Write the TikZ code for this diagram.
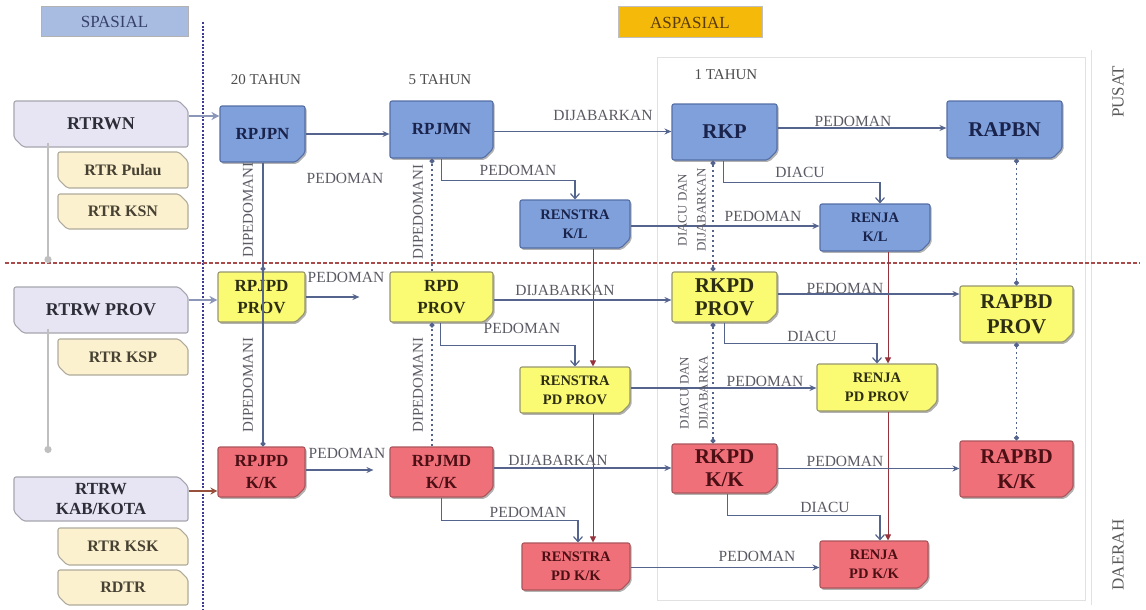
\documentclass[tikz,border=0pt]{standalone}
\usepackage{fontspec}
\setmainfont{Liberation Serif}
\usetikzlibrary{shapes.misc,arrows.meta,calc,shadows}
\definecolor{bluefill}{RGB}{127,160,219}
\definecolor{blueline}{RGB}{85,110,165}
\definecolor{bluetext}{RGB}{25,35,75}
\definecolor{yelfill}{RGB}{250,250,115}
\definecolor{yelline}{RGB}{150,150,110}
\definecolor{yeltext}{RGB}{45,45,20}
\definecolor{redfill}{RGB}{240,112,122}
\definecolor{redline}{RGB}{170,85,90}
\definecolor{redtext}{RGB}{75,15,20}
\definecolor{lavfill}{RGB}{231,229,243}
\definecolor{lavline}{RGB}{165,165,175}
\definecolor{lavtext}{RGB}{45,45,55}
\definecolor{crmfill}{RGB}{252,241,207}
\definecolor{crmline}{RGB}{175,170,155}
\definecolor{crmtext}{RGB}{70,65,50}
\definecolor{conn}{RGB}{85,100,140}
\definecolor{lbl}{RGB}{90,90,100}
\definecolor{sepblue}{RGB}{60,60,150}
\definecolor{sepred}{RGB}{170,75,75}
\definecolor{darkmaroon}{RGB}{150,50,60}
\definecolor{spasfill}{RGB}{168,188,226}
\definecolor{spastext}{RGB}{55,65,105}
\definecolor{aspfill}{RGB}{245,185,10}
\definecolor{asptext}{RGB}{90,60,10}
\definecolor{framegray}{RGB}{225,225,225}
\definecolor{leftarrow}{RGB}{140,150,185}
\definecolor{brownarrow}{RGB}{150,80,60}
\newcommand\myfs[1]{\fontsize{#1}{#1}\selectfont}
\newcommand\myfsl[2]{\fontsize{#1}{#2}\selectfont}
\begin{document}
\begin{tikzpicture}[x=1pt,y=-1pt,
  base/.style={chamfered rectangle, chamfered rectangle xsep=6pt, line width=1.1pt, align=center, inner sep=1pt, rounded corners=2pt},
  shad/.style={copy shadow={shadow xshift=1.5pt, shadow yshift=-1.8pt, fill=black!30, draw=none}},
  bluebox/.style={base, shad, chamfered rectangle corners=south east, fill=bluefill, draw=blueline, text=bluetext},
  yelbox/.style={base, shad, chamfered rectangle corners=south east, fill=yelfill, draw=yelline, text=yeltext},
  redbox/.style={base, shad, chamfered rectangle corners=south east, fill=redfill, draw=redline, text=redtext},
  lavbox/.style={base, chamfered rectangle corners={north east,south west}, fill=lavfill, draw=lavline, text=lavtext},
  crmbox/.style={base, chamfered rectangle corners={north east,south west}, fill=crmfill, draw=crmline, text=crmtext},
  lbltext/.style={text=lbl, inner sep=0pt, font=\myfs{15.5}},
  vlbl/.style={text=lbl, inner sep=0pt, rotate=90, font=\myfs{15}},
  arr/.style={draw=conn, line width=1.2pt, -{Stealth[length=7pt,width=6pt]}},
  elb/.style={draw=conn, line width=1.2pt, -{Straight Barb[length=5pt,width=9pt]}},
  dotend/.style={draw=conn, line width=1.2pt, -{Circle[length=5pt]}},
  dotup/.style={draw=conn, line width=1.1pt, dash pattern=on 2pt off 3pt, -{Circle[length=5pt]}},
  dotboth/.style={draw=conn, line width=1.1pt, dash pattern=on 2pt off 3pt, {Circle[length=5pt]}-{Circle[length=5pt]}},
  redv/.style={draw=darkmaroon, line width=1pt, -{Triangle[length=6pt,width=6pt]}},
  greyl/.style={draw=black!25, line width=2.5pt, -{Circle[length=7pt]}}
]
\useasboundingbox (0,0) rectangle (1146,610);
% frame
\draw[framegray, line width=1pt] (657,58) rectangle (1085,600);
\draw[framegray, line width=1pt] (1091,50) -- (1091,605);
% separators
\draw[sepblue, line width=2pt, dash pattern=on 2pt off 1.6pt] (203,22) -- (203,610);
\draw[sepred, line width=1.6pt, dash pattern=on 4pt off 2pt] (5,263) -- (1140,263);
% headers
\node[fill=spasfill, draw=black!30, line width=1pt, minimum width=147pt, minimum height=30pt, text=spastext, font=\myfs{17}] (spasial) at (114.5,22) {SPASIAL};
\node[fill=aspfill, draw=black!25, line width=1pt, minimum width=144pt, minimum height=31pt, text=asptext, font=\myfs{17}] (aspasial) at (690,22.5) {ASPASIAL};
\node[text=black!70, font=\myfs{15}] (t20) at (266,80) {20 TAHUN};
\node[text=black!70, font=\myfs{15}] (t5) at (440,80) {5 TAHUN};
\node[text=black!70, font=\myfs{15}] (t1) at (726,75) {1 TAHUN};
\node[text=black!65, rotate=90, font=\myfs{17}] (pusat) at (1118,92) {PUSAT};
\node[text=black!65, rotate=90, font=\myfs{17}] (daerah) at (1118,555) {DAERAH};
% left column
\node[lavbox, minimum width=174pt, minimum height=46pt, font=\bfseries\myfs{18}] (rtrwn) at (101,124) {RTRWN};
\node[crmbox, minimum width=130pt, minimum height=36pt, font=\bfseries\myfs{16}] (rtrpulau) at (123,170) {RTR Pulau};
\node[crmbox, minimum width=130pt, minimum height=35pt, font=\bfseries\myfs{16}] (rtrksn) at (123,211.5) {RTR KSN};
\node[lavbox, minimum width=174pt, minimum height=46pt, font=\bfseries\myfs{18}] (rtrwprov) at (101,310) {RTRW PROV};
\node[crmbox, minimum width=130pt, minimum height=36pt, font=\bfseries\myfs{16}] (rtrksp) at (123,357) {RTR KSP};
\node[lavbox, minimum width=174pt, minimum height=44pt, font=\bfseries\myfsl{17}{20}] (rtrwkab) at (101,499) {RTRW\\KAB/KOTA};
\node[crmbox, minimum width=130pt, minimum height=37pt, font=\bfseries\myfs{16}] (rtrksk) at (123,546.5) {RTR KSK};
\node[crmbox, minimum width=130pt, minimum height=35pt, font=\bfseries\myfs{16}] (rdtr) at (123,587.5) {RDTR};
\coordinate (g1) at (48,263);
\coordinate (g2) at (48,453);
\draw[greyl] (rtrwn.south west -| g1) -- (g1);
\draw[greyl] (rtrwprov.south west -| g2) -- (g2);
% blue row
\node[bluebox, minimum width=85pt, minimum height=56pt, font=\bfseries\myfs{17}] (rpjpn) at (262.5,134) {RPJPN};
\node[bluebox, minimum width=103pt, minimum height=57pt, font=\bfseries\myfs{17}] (rpjmn) at (441.5,129.5) {RPJMN};
\node[bluebox, minimum width=105pt, minimum height=56pt, font=\bfseries\myfs{21}] (rkp) at (724.5,132) {RKP};
\node[bluebox, minimum width=115pt, minimum height=57pt, font=\bfseries\myfs{21}] (rapbn) at (1004.5,129.5) {RAPBN};
\node[bluebox, minimum width=110pt, minimum height=48pt, font=\bfseries\myfsl{14.5}{19}] (renstrakl) at (575,224) {RENSTRA\\K/L};
\node[bluebox, minimum width=110pt, minimum height=47pt, font=\bfseries\myfsl{14.5}{19}] (renjakl) at (875,227.5) {RENJA\\K/L};
% yellow row
\node[yelbox, minimum width=87pt, minimum height=50pt, font=\bfseries\myfsl{17}{22}] (rpjpdprov) at (261.5,297) {RPJPD\\PROV};
\node[yelbox, minimum width=103pt, minimum height=50pt, font=\bfseries\myfsl{17}{22}] (rpdprov) at (441.5,297) {RPD\\PROV};
\node[yelbox, minimum width=105pt, minimum height=50pt, font=\bfseries\myfsl{21}{23}] (rkpdprov) at (724.5,297) {RKPD\\PROV};
\node[yelbox, minimum width=113pt, minimum height=56pt, font=\bfseries\myfsl{21}{25}] (rapbdprov) at (1016.5,314) {RAPBD\\PROV};
\node[yelbox, minimum width=110pt, minimum height=46pt, font=\bfseries\myfsl{14.5}{19}] (renstrapdprov) at (575,390) {RENSTRA\\PD PROV};
\node[yelbox, minimum width=120pt, minimum height=47pt, font=\bfseries\myfsl{14.5}{19}] (renjapdprov) at (877,387.5) {RENJA\\PD PROV};
% red row
\node[redbox, minimum width=87pt, minimum height=50pt, font=\bfseries\myfsl{17}{22}] (rpjpdkk) at (261.5,472) {RPJPD\\K/K};
\node[redbox, minimum width=103pt, minimum height=50pt, font=\bfseries\myfsl{17}{22}] (rpjmdkk) at (441.5,472) {RPJMD\\K/K};
\node[redbox, minimum width=105pt, minimum height=49pt, font=\bfseries\myfsl{21}{23}] (rkpdkk) at (724.5,468.5) {RKPD\\K/K};
\node[redbox, minimum width=113pt, minimum height=56pt, font=\bfseries\myfsl{21}{25}] (rapbdkk) at (1016.5,469) {RAPBD\\K/K};
\node[redbox, minimum width=108pt, minimum height=47pt, font=\bfseries\myfsl{14.5}{19}] (renstrapdkk) at (576,566.5) {RENSTRA\\PD K/K};
\node[redbox, minimum width=108pt, minimum height=47pt, font=\bfseries\myfsl{14.5}{19}] (renjapdkk) at (874,564.5) {RENJA\\PD K/K};
% arrows from spatial plans
\draw[draw=leftarrow, line width=2pt, -{Stealth[length=8pt,width=8pt,open]}] ([yshift=8pt]rtrwn.east) -- ([yshift=8pt]rtrwn.east -| rpjpn.west);
\draw[draw=leftarrow, line width=2pt, -{Stealth[length=8pt,width=8pt,open]}] ([yshift=10pt]rtrwprov.east) -- ([yshift=10pt]rtrwprov.east -| rpjpdprov.west);
\draw[draw=brownarrow, line width=1.6pt, -{Stealth[length=7pt,width=7pt]}] ([yshift=8pt]rtrwkab.east) -- ([yshift=8pt]rtrwkab.east -| rpjpdkk.west);
% column helper coordinates
\coordinate (c1) at (263,0);
\coordinate (c2) at (432,0);
\coordinate (c3) at (713,0);
\coordinate (c4) at (593,0);
\coordinate (c5) at (888,0);
% vertical connectors
\draw[dotend] (rpjpn.south -| c1) -- (rpjpdprov.north -| c1);
\draw[dotend] (rpjpdprov.north -| c1) -- (rpjpdkk.north -| c1);
\draw[dotup] (rpdprov.north -| c2) -- (rpjmn.south -| c2);
\draw[dotup] (rpjmdkk.north -| c2) -- (rpdprov.south -| c2);
\draw[dotboth] (rkp.south -| c3) -- (rkpdprov.north -| c3);
\draw[dotboth] (rkpdprov.south -| c3) -- (rkpdkk.north -| c3);
\draw[redv] (renstrakl.south -| c4) -- (renstrapdprov.north -| c4);
\draw[redv] (renstrapdprov.south -| c4) -- (renstrapdkk.north -| c4);
\draw[redv] (renjakl.south -| c5) -- (renjapdprov.north -| c5);
\draw[redv] (renjapdprov.south -| c5) -- (renjapdkk.north -| c5);
\draw[dotboth] (rapbdprov.north |- rapbn.south) -- (rapbdprov.north);
\draw[dotboth] (rapbdprov.south) -- (rapbdkk.north);
% horizontal connectors: blue row
\draw[arr] (rpjpn.east) -- (rpjpn.east -| rpjmn.west);
\draw[arr] ([yshift=-2pt]rpjmn.east) -- ([yshift=-2pt]rpjmn.east -| rkp.west);
\draw[arr] ([yshift=4pt]rkp.east) -- ([yshift=4pt]rkp.east -| rapbn.west);
\draw[elb] (rpjmn.south) -- ++(0,22) -| (renstrakl.north);
\draw[elb] ([xshift=-1pt]rkp.south) -- ++(0,22) -| ([xshift=5pt]renjakl.north);
\draw[arr] ([yshift=-2pt]renstrakl.east) -- ([yshift=-2pt]renstrakl.east -| renjakl.west);
% yellow row
\draw[arr, shorten >=30pt] (rpjpdprov.east) -- (rpjpdprov.east -| rpdprov.west);
\draw[arr] ([yshift=-3pt]rpdprov.east) -- ([yshift=-3pt]rpdprov.east -| rkpdprov.west);
\draw[arr] ([yshift=3pt]rkpdprov.east) -- ([yshift=3pt]rkpdprov.east -| rapbdprov.west);
\draw[elb] ([xshift=-1pt]rpdprov.south) -- ++(0,23) -| (renstrapdprov.north);
\draw[elb] (rkpdprov.south) -- ++(0,21) -| (renjapdprov.north);
\draw[arr] ([yshift=2pt]renstrapdprov.east) -- ([yshift=2pt]renstrapdprov.east -| renjapdprov.west);
% red row
\draw[arr, shorten >=16pt] ([yshift=2pt]rpjpdkk.east) -- ([yshift=2pt]rpjpdkk.east -| rpjmdkk.west);
\draw[arr] ([yshift=4pt]rpjmdkk.east) -- ([yshift=4pt]rpjmdkk.east -| rkpdkk.west);
\draw[arr] (rkpdkk.east) -- (rkpdkk.east -| rapbdkk.west);
\draw[elb] (rpjmdkk.south) -- ++(0,23) -| ([xshift=2pt]renstrapdkk.north);
\draw[elb] ([xshift=3pt]rkpdkk.south) -- ++(0,22) -| ([xshift=6pt]renjapdkk.north);
\draw[arr] ([yshift=-1pt]renstrapdkk.east) -- ([yshift=-1pt]renstrapdkk.east -| renjapdkk.west);
% labels
\node[lbltext] (l1) at (345,178) {PEDOMAN};
\node[lbltext] (l2) at (603,115) {DIJABARKAN};
\node[lbltext] (l3) at (853,121) {PEDOMAN};
\node[lbltext] (l4) at (518,170) {PEDOMAN};
\node[lbltext] (l5) at (800,172) {DIACU};
\node[lbltext] (l6) at (763,216) {PEDOMAN};
\node[lbltext] (l7) at (346,277) {PEDOMAN};
\node[lbltext] (l8) at (565,290) {DIJABARKAN};
\node[lbltext] (l9) at (845,288) {PEDOMAN};
\node[lbltext] (l10) at (522,328) {PEDOMAN};
\node[lbltext] (l11) at (812,336) {DIACU};
\node[lbltext] (l12) at (765,381) {PEDOMAN};
\node[lbltext] (l13) at (347,453) {PEDOMAN};
\node[lbltext] (l14) at (558,460) {DIJABARKAN};
\node[lbltext] (l15) at (845,461) {PEDOMAN};
\node[lbltext] (l16) at (528,512) {PEDOMAN};
\node[lbltext] (l17) at (825,507) {DIACU};
\node[lbltext] (l18) at (757,556) {PEDOMAN};
\node[vlbl] (v1) at (248,210) {DIPEDOMANI};
\node[vlbl] (v2) at (248,385) {DIPEDOMANI};
\node[vlbl] (v3) at (418,212) {DIPEDOMANI};
\node[vlbl] (v4) at (418,385) {DIPEDOMANI};
\node[vlbl, align=center, font=\myfsl{13}{19}] (v5) at (692,210) {DIACU DAN\\DIJABARKAN};
\node[vlbl, align=center, font=\myfsl{13}{19}] (v6) at (694,393) {DIACU DAN\\DIJABARKA};
\end{tikzpicture}
\end{document}
